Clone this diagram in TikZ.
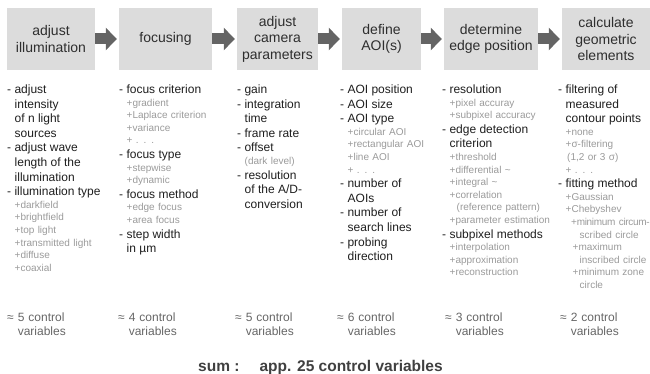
\documentclass[tikz,border=0pt]{standalone}
\usepackage{fontspec}
\setmainfont{Liberation Sans}
\usetikzlibrary{arrows.meta}

\definecolor{boxfill}{HTML}{DCDCDC}
\definecolor{arrowgray}{HTML}{646464}
\definecolor{titlecol}{HTML}{2E2E2E}
\definecolor{maincol}{HTML}{1E1E1E}
\definecolor{subcol}{HTML}{9A9A9A}
\definecolor{countcol}{HTML}{666666}
\definecolor{sumcol}{HTML}{404040}

% indentation of continuation lines and sub-items
\newlength\itemind
\setlength\itemind{7.5pt}

% one line per paragraph, so each kind of line keeps its own spacing
\newcommand\mainline[1]{{\fontsize{12}{14.6}\selectfont\leavevmode\color{maincol}-\ #1\par}}
\newcommand\mainmore[1]{{\fontsize{12}{14.6}\selectfont\leavevmode\color{maincol}\hspace*{\itemind}#1\par}}
\newcommand\subline[2][0pt]{{\fontsize{10}{12.6}\selectfont\leavevmode\color{subcol}\hspace*{\dimexpr\itemind+#1\relax}#2\par}}

\tikzset{
  stagebox/.style={rectangle, fill=boxfill, draw=none, minimum height=62pt,
    inner sep=2pt, align=center, text=titlecol,
    font=\fontsize{14}{16.5}\selectfont},
  flowarrow/.style={draw=arrowgray, line width=11pt, shorten >=2pt,
    -{Triangle[length=11pt,width=22pt,fill=arrowgray]}},
  column/.style={anchor=base west, inner sep=0pt, text width=120pt, align=left},
  counttext/.style={anchor=base west, inner sep=0pt, text width=90pt, align=left,
    text=countcol, font=\fontsize{12}{14}\selectfont},
  sumtext/.style={anchor=base west, inner sep=0pt, text=sumcol,
    font=\fontsize{15.5}{18}\selectfont\bfseries}
}

\begin{document}
\begin{tikzpicture}[x=1pt, y=-1pt]
\useasboundingbox (0,0) rectangle (650,374);

% process stages
\node[stagebox, minimum width=88pt] (b1) at (51,39)    {adjust\\illumination};
\node[stagebox, minimum width=93pt] (b2) at (165.5,39) {focusing};
\node[stagebox, minimum width=81pt] (b3) at (277.5,39) {adjust\\camera\\parameters};
\node[stagebox, minimum width=79pt] (b4) at (381.5,39) {define\\AOI(s)};
\node[stagebox, minimum width=94pt] (b5) at (491,39)   {determine\\edge position};
\node[stagebox, minimum width=88pt] (b6) at (606,39)   {calculate\\geometric\\elements};

% flow between stages
\draw[flowarrow] (b1.east) -- (b2.west);
\draw[flowarrow] (b2.east) -- (b3.west);
\draw[flowarrow] (b3.east) -- (b4.west);
\draw[flowarrow] (b4.east) -- (b5.west);
\draw[flowarrow] (b5.east) -- (b6.west);

% parameters of each stage
\node[column] (c1) at (7,93.5) {%
\mainline{adjust}
\mainmore{intensity}
\mainmore{of n light}
\mainmore{sources}
\mainline{adjust wave}
\mainmore{length of the}
\mainmore{illumination}
\mainline{illumination type}
\subline{+darkfield}
\subline{+brightfield}
\subline{+top light}
\subline{+transmitted light}
\subline{+diffuse}
\subline{+coaxial}};

\node[column] (c2) at (119,93.5) {%
\mainline{focus criterion}
\subline{+gradient}
\subline{+Laplace criterion}
\subline{+variance}
\subline{+ . . .}
\mainline{focus type}
\subline{+stepwise}
\subline{+dynamic}
\mainline{focus method}
\subline{+edge focus}
\subline{+area focus}
\mainline{step width}
\mainmore{in µm}};

\node[column] (c3) at (237,93.5) {%
\mainline{gain}
\mainline{integration}
\mainmore{time}
\mainline{frame rate}
\mainline{offset}
\subline{(dark level)}
\mainline{resolution}
\mainmore{of the A/D-}
\mainmore{conversion}};

\node[column] (c4) at (340,93.5) {%
\mainline{AOI position}
\mainline{AOI size}
\mainline{AOI type}
\subline{+circular AOI}
\subline{+rectangular AOI}
\subline{+line AOI}
\subline{+ . . .}
\mainline{number of}
\mainmore{AOIs}
\mainline{number of}
\mainmore{search lines}
\mainline{probing}
\mainmore{direction}};

\node[column] (c5) at (442,93.5) {%
\mainline{resolution}
\subline{+pixel accuray}
\subline{+subpixel accuracy}
\mainline{edge detection}
\mainmore{criterion}
\subline{+threshold}
\subline{+differential \textasciitilde}
\subline{+integral \textasciitilde}
\subline{+correlation}
\subline[7pt]{(reference pattern)}
\subline{+parameter estimation}
\mainline{subpixel methods}
\subline{+interpolation}
\subline{+approximation}
\subline{+reconstruction}};

\node[column] (c6) at (558,93.5) {%
\mainline{filtering of}
\mainmore{measured}
\mainmore{contour points}
\subline{+none}
\subline{+σ-filtering}
\subline[1.5pt]{(1,2 or 3 σ)}
\subline{+ . . .}
\mainline{fitting method}
\subline{+Gaussian}
\subline{+Chebyshev}
\subline[5.5pt]{\addfontfeature{LetterSpace=-3}+minimum circum-}
\subline[14pt]{scribed circle}
\subline[7pt]{+maximum}
\subline[14pt]{inscribed circle}
\subline[7pt]{+minimum zone}
\subline[14pt]{circle}};

% number of control variables per stage
\node[counttext] (n1) at (7,321)   {≈ 5 control\\\hphantom{≈ }variables};
\node[counttext] (n2) at (118,321) {≈ 4 control\\\hphantom{≈ }variables};
\node[counttext] (n3) at (235,321) {≈ 5 control\\\hphantom{≈ }variables};
\node[counttext] (n4) at (337,321) {≈ 6 control\\\hphantom{≈ }variables};
\node[counttext] (n5) at (445,321) {≈ 3 control\\\hphantom{≈ }variables};
\node[counttext] (n6) at (560,321) {≈ 2 control\\\hphantom{≈ }variables};

% total
\node[sumtext] (total) at (198,371.5) {sum :\hspace{20pt}app. 25 control variables};
\end{tikzpicture}
\end{document}
